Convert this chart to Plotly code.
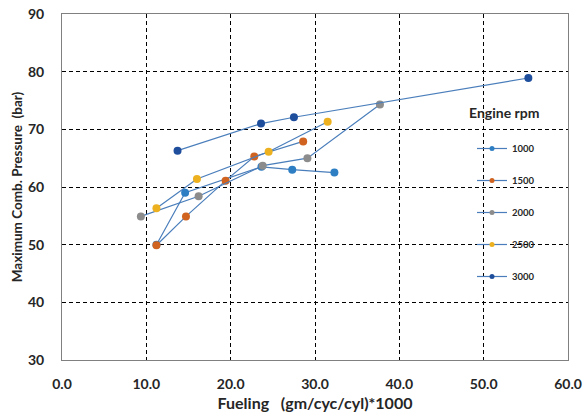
import plotly.graph_objects as go

# ---- data ----
rpm_labels = ["1000", "1500", "2000", "2500", "3000"]

fuel_1000 = [11.2, 14.6, 23.65, 27.3, 32.3]
pmax_1000 = [50.0, 59.0, 63.5, 63.0, 62.5]

fuel_1500 = [11.2, 14.7, 19.4, 22.8, 28.6]
pmax_1500 = [49.9, 54.9, 61.1, 65.3, 67.9]

fuel_2000 = [9.35, 16.2, 23.8, 29.1, 37.7]
pmax_2000 = [54.9, 58.4, 63.7, 65.0, 74.3]

fuel_2500 = [11.2, 16.0, 24.5, 31.5]
pmax_2500 = [56.3, 61.4, 66.1, 71.3]

fuel_3000 = [13.7, 23.6, 27.5, 55.3]
pmax_3000 = [66.3, 71.0, 72.1, 78.9]

x_ticks = [0, 10, 20, 30, 40, 50, 60]
x_tick_text = ["0.0", "10.0", "20.0", "30.0", "40.0", "50.0", "60.0"]
y_ticks = [30, 40, 50, 60, 70, 80, 90]

series = [
    (fuel_1000, pmax_1000),
    (fuel_1500, pmax_1500),
    (fuel_2000, pmax_2000),
    (fuel_2500, pmax_2500),
    (fuel_3000, pmax_3000),
]
marker_colors = ["#2E7EC4", "#D0631F", "#8C8C8C", "#EDB120", "#1E4E9C"]
line_color = "#4A7EBB"
FONT = "Lato"
TXT = "#262626"

W, H = 586, 414
ML, MR, MT, MB = 62, 18, 14, 54
PW, PH = W - ML - MR, H - MT - MB


def px_to_paper(xp, yp):
    """figure pixel position -> paper coordinates"""
    return (xp - ML) / PW, (H - MB - yp) / PH


fig = go.Figure()
for (xs, ys), name, mc in zip(series, rpm_labels, marker_colors):
    fig.add_trace(go.Scatter(
        x=xs, y=ys, mode="lines+markers", name=name, showlegend=False,
        line=dict(color=line_color, width=1.2),
        marker=dict(color=mc, size=8, line=dict(width=0)),
    ))
# legend entries (smaller markers, as in the reference legend)
for name, mc in zip(rpm_labels, marker_colors):
    fig.add_trace(go.Scatter(
        x=[None], y=[None], mode="lines+markers", name=name,
        legendgroup=name, showlegend=True,
        line=dict(color=line_color, width=1.2),
        marker=dict(color=mc, size=5),
    ))

lx, ly = px_to_paper(472, 134)
tx, ty = px_to_paper(467, 112)
fig.update_layout(
    width=W, height=H,
    margin=dict(l=ML, r=MR, t=MT, b=MB, autoexpand=False),
    paper_bgcolor="white", plot_bgcolor="white",
    font=dict(family=FONT, color=TXT),
    legend=dict(
        x=lx, y=ly, xanchor="left", yanchor="top",
        font=dict(family=FONT, size=9.5, color=TXT, weight="bold"),
        tracegroupgap=13, bgcolor="rgba(0,0,0,0)",
    ),
    annotations=[dict(
        text="<b>Engine rpm</b>", x=tx, y=ty, xref="paper", yref="paper",
        showarrow=False, font=dict(family=FONT, size=14, color=TXT),
        xanchor="left", yanchor="middle",
    )],
)

fig.update_xaxes(
    range=[0, 60], tickvals=x_ticks, ticktext=x_tick_text, automargin=False,
    showgrid=True, gridcolor="#000000", gridwidth=1, griddash="4px,3px",
    showline=True, linecolor="#808080", linewidth=1, mirror=True,
    zeroline=False, ticks="", ticklabelstandoff=11, ticklabeloverflow="allow",
    tickfont=dict(family=FONT, size=14, color=TXT, weight="bold"),
    title=dict(text="<b>Fueling&nbsp;&nbsp;&nbsp;(gm/cyc/cyl)*1000</b>",
               font=dict(family=FONT, size=16, color=TXT), standoff=7),
)
fig.update_yaxes(
    range=[30, 90], tickvals=y_ticks, automargin=False,
    showgrid=True, gridcolor="#000000", gridwidth=1, griddash="4px,3px",
    showline=True, linecolor="#808080", linewidth=1, mirror=True,
    zeroline=False, ticks="", ticklabelstandoff=14, ticklabeloverflow="allow",
    tickfont=dict(family=FONT, size=14, color=TXT, weight="bold"),
    title=dict(text="<b>Maximum Comb. Pressure&nbsp;&nbsp;(bar)</b>",
               font=dict(family=FONT, size=13.5, color=TXT), standoff=2),
)

# remove the browser's default 8px body margin so the figure fills the window
fig.write_html("out.html", config={"displayModeBar": False},
               post_script="document.body.style.margin='0';")
